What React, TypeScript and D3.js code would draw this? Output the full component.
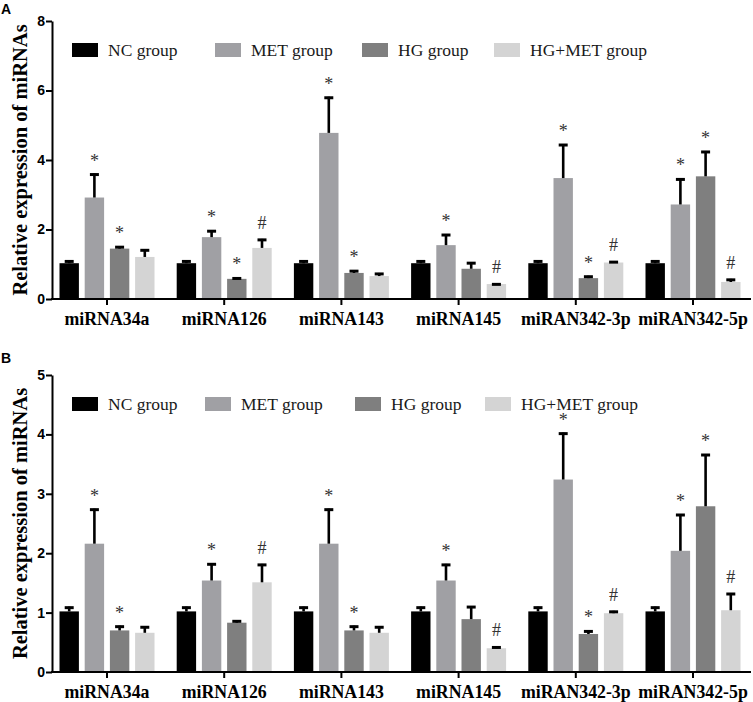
import React, { useEffect, useRef } from "react";
import * as d3 from "d3";

const categories = ["miRNA34a", "miRNA126", "miRNA143", "miRNA145", "miRAN342-3p", "miRAN342-5p"];
const groups = ["NC group", "MET group", "HG group", "HG+MET group"];
const groupColors = ["#000000", "#a0a0a4", "#7f7f7f", "#d4d4d4"];

// panel A (means, error bars, significance marks)
const meanA_NC = [1.03, 1.03, 1.03, 1.03, 1.03, 1.03];
const meanA_MET = [2.92, 1.78, 4.78, 1.55, 3.48, 2.72];
const meanA_HG = [1.45, 0.58, 0.75, 0.87, 0.6, 3.53];
const meanA_HGMET = [1.21, 1.47, 0.66, 0.43, 1.05, 0.49];
const errA_NC = [0.08, 0.08, 0.08, 0.08, 0.08, 0.08];
const errA_MET = [0.69, 0.2, 1.04, 0.32, 0.98, 0.75];
const errA_HG = [0.07, 0.04, 0.08, 0.19, 0.07, 0.73];
const errA_HGMET = [0.22, 0.26, 0.09, 0.02, 0.04, 0.09];
const markA_MET = ["*", "*", "*", "*", "*", "*"];
const markA_HG = ["*", "*", "*", "", "*", "*"];
const markA_HGMET = ["", "#", "", "#", "#", "#"];

// panel B
const meanB_NC = [1.02, 1.02, 1.02, 1.02, 1.02, 1.02];
const meanB_MET = [2.16, 1.54, 2.16, 1.54, 3.24, 2.04];
const meanB_HG = [0.7, 0.83, 0.7, 0.89, 0.64, 2.79];
const meanB_HGMET = [0.66, 1.51, 0.66, 0.4, 0.99, 1.04];
const errB_NC = [0.08, 0.08, 0.08, 0.08, 0.08, 0.08];
const errB_MET = [0.59, 0.29, 0.59, 0.28, 0.79, 0.62];
const errB_HG = [0.08, 0.04, 0.08, 0.22, 0.06, 0.88];
const errB_HGMET = [0.11, 0.31, 0.11, 0.03, 0.04, 0.29];
const markB_MET = ["*", "*", "*", "*", "*", "*"];
const markB_HG = ["*", "", "*", "", "*", "*"];
const markB_HGMET = ["", "#", "", "#", "#", "#"];

const yTicksA = [0, 2, 4, 6, 8];
const yTicksB = [0, 1, 2, 3, 4, 5];

const SERIF = "'Liberation Serif', 'Times New Roman', serif";
const SANS = "'Liberation Sans', Arial, sans-serif";

const buildRows = (means, errs, marks) => {
  const rows = [];
  categories.forEach((cat, i) => {
    groups.forEach((grp, j) => {
      rows.push({ cat, grp, j, mean: means[j][i], err: errs[j][i], mark: marks[j] ? marks[j][i] : "" });
    });
  });
  return rows;
};

const drawPanel = (svg, cfg) => {
  const g = svg.append("g");
  const x = d3.scaleBand().domain(categories).range([48.4, 751.6]);
  const xi = d3.scaleBand().domain(groups).range([-47.5, 47.5]).paddingInner(0.23);
  const y = d3.scaleLinear().domain([0, d3.max(cfg.ticks)]).range(cfg.yRange);
  const cx = (d) => x(d.cat) + x.bandwidth() / 2 + xi(d.grp);
  const mid = (d) => cx(d) + xi.bandwidth() / 2;

  // bars
  g.append("g")
    .selectAll("rect")
    .data(cfg.rows)
    .join("rect")
    .attr("x", cx)
    .attr("y", (d) => y(d.mean))
    .attr("width", xi.bandwidth())
    .attr("height", (d) => y(0) - y(d.mean))
    .attr("fill", (d) => groupColors[d.j]);

  // error bars (upper only)
  const eb = g.append("g").attr("stroke", "#000");
  eb.selectAll("line.v")
    .data(cfg.rows)
    .join("line")
    .attr("class", "v")
    .attr("x1", mid)
    .attr("x2", mid)
    .attr("y1", (d) => y(d.mean))
    .attr("y2", (d) => y(d.mean + d.err))
    .attr("stroke-width", 2.6);
  eb.selectAll("line.c")
    .data(cfg.rows)
    .join("line")
    .attr("class", "c")
    .attr("x1", (d) => mid(d) - 4.5)
    .attr("x2", (d) => mid(d) + 4.5)
    .attr("y1", (d) => y(d.mean + d.err) + 1)
    .attr("y2", (d) => y(d.mean + d.err) + 1)
    .attr("stroke-width", 3);

  // significance marks
  g.append("g")
    .selectAll("text")
    .data(cfg.rows.filter((d) => d.mark))
    .join("text")
    .attr("x", mid)
    .attr("y", (d) => y(d.mean + d.err) - 16 + (d.mark === "*" ? 9 : 6))
    .attr("text-anchor", "middle")
    .attr("font-family", SERIF)
    .attr("font-size", 18)
    .attr("fill", "#333")
    .text((d) => d.mark);

  // y axis
  const yAxis = g.append("g")
    .attr("transform", "translate(52,0)")
    .call(d3.axisLeft(y).tickValues(cfg.ticks).tickSize(6).tickSizeOuter(0).tickPadding(1).tickFormat(d3.format("d")));
  yAxis.select(".domain").attr("stroke-width", 2);
  yAxis.selectAll(".tick line").attr("stroke-width", 2);
  yAxis.selectAll(".tick text")
    .attr("font-family", SANS)
    .attr("font-weight", "bold")
    .attr("font-size", 14)
    .attr("fill", "#000");

  // x axis
  const x0 = y(0);
  g.append("line")
    .attr("x1", 51).attr("x2", 751)
    .attr("y1", x0).attr("y2", x0)
    .attr("stroke", "#000").attr("stroke-width", 2);
  g.append("g")
    .selectAll("line")
    .data(categories)
    .join("line")
    .attr("x1", (d) => x(d) + x.bandwidth() / 2)
    .attr("x2", (d) => x(d) + x.bandwidth() / 2)
    .attr("y1", x0)
    .attr("y2", x0 + 6)
    .attr("stroke", "#000")
    .attr("stroke-width", 2);
  g.append("g")
    .selectAll("text")
    .data(categories)
    .join("text")
    .attr("x", (d) => x(d) + x.bandwidth() / 2)
    .attr("y", x0 + 26)
    .attr("text-anchor", "middle")
    .attr("font-family", SERIF)
    .attr("font-weight", 700)
    .attr("font-size", 17.8)
    .text((d) => d);

  // y title
  const ym = (cfg.yRange[0] + cfg.yRange[1]) / 2;
  g.append("text")
    .attr("transform", `translate(26.5,${ym}) rotate(-90)`)
    .attr("text-anchor", "middle")
    .attr("font-family", SERIF)
    .attr("font-weight", 700)
    .attr("font-size", 20.5)
    .text("Relative expression of miRNAs");

  // panel letter
  g.append("text")
    .attr("x", 1)
    .attr("y", cfg.letterY)
    .attr("font-family", SANS)
    .attr("font-weight", "bold")
    .attr("font-size", 14)
    .text(cfg.letter);

  // legend
  const lg = g.append("g")
    .selectAll("g")
    .data(groups)
    .join("g")
    .attr("transform", (d, i) => `translate(${cfg.legendX[i]},${cfg.legendY})`);
  lg.append("rect").attr("width", 26).attr("height", 14).attr("fill", (d, i) => groupColors[i]);
  lg.append("text")
    .attr("x", 36)
    .attr("y", 13)
    .attr("font-family", SERIF)
    .attr("font-size", 17.5)
    .attr("fill", "#1a1a1a")
    .text((d) => d);
};

export default function App() {
  const ref = useRef(null);

  useEffect(() => {
    const svg = d3.select(ref.current);
    svg.selectAll("*").remove();
    svg.append("rect").attr("width", 753).attr("height", 702).attr("fill", "#fff");

    drawPanel(svg, {
      letter: "A",
      letterY: 13.5,
      yRange: [299, 21],
      ticks: yTicksA,
      legendX: [72, 215, 362, 494],
      legendY: 43,
      rows: buildRows(
        [meanA_NC, meanA_MET, meanA_HG, meanA_HGMET],
        [errA_NC, errA_MET, errA_HG, errA_HGMET],
        [null, markA_MET, markA_HG, markA_HGMET]
      ),
    });
    drawPanel(svg, {
      letter: "B",
      letterY: 363,
      yRange: [672, 375],
      ticks: yTicksB,
      legendX: [72, 205, 355, 485],
      legendY: 397,
      rows: buildRows(
        [meanB_NC, meanB_MET, meanB_HG, meanB_HGMET],
        [errB_NC, errB_MET, errB_HG, errB_HGMET],
        [null, markB_MET, markB_HG, markB_HGMET]
      ),
    });
  }, []);

  return (
    <svg
      ref={ref}
      width={753}
      height={702}
      style={{ position: "absolute", left: 0, top: 0, display: "block" }}
    />
  );
}
